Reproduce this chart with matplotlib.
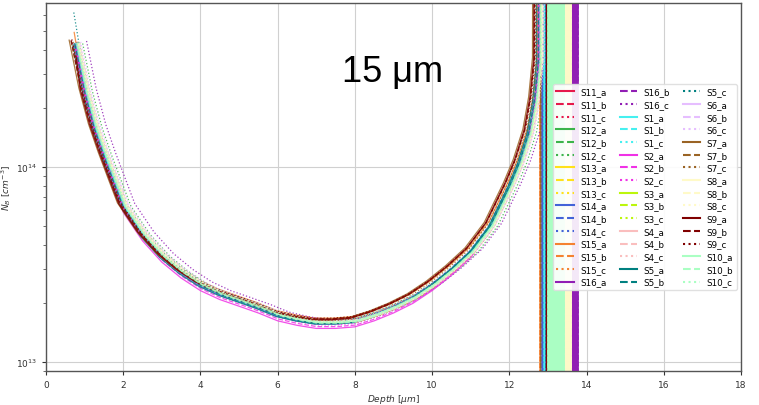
import numpy as np
import matplotlib
matplotlib.use("Agg")
import matplotlib.pyplot as plt

# ---- data ----
groups = ["S11", "S12", "S13", "S14", "S15", "S16", "S1", "S2", "S3", "S4",
          "S5", "S6", "S7", "S8", "S9", "S10"]
variants = ["a", "b", "c"]
group_colors = ["#e6194b", "#3cb44b", "#ffe119", "#4363d8", "#f58231", "#911eb4",
                "#46f0f0", "#f032e6", "#bcf60c", "#fabebe", "#008080", "#e6beff",
                "#9a6324", "#fffac8", "#800000", "#aaffc3"]
variant_styles = ["-", "--", ":"]

# typical profile (depth in um, N_B in cm^-3)
depth_base = [0.75, 1.0, 1.25, 1.5, 1.75, 2.0, 2.5, 3.0, 3.5, 4.0, 4.5, 5.0,
              5.5, 6.0, 6.5, 7.0, 7.5, 8.0, 8.5, 9.0, 9.5, 10.0, 10.5, 11.0,
              11.5, 12.0, 12.25, 12.5, 12.65, 12.75]
nb_base = [4.3e14, 2.45e14, 1.6e14, 1.15e14, 8.5e13, 6.3e13, 4.5e13, 3.5e13,
           2.9e13, 2.5e13, 2.25e13, 2.08e13, 1.92e13, 1.75e13, 1.66e13, 1.6e13,
           1.6e13, 1.63e13, 1.75e13, 1.92e13, 2.15e13, 2.5e13, 3.0e13, 3.7e13,
           5.0e13, 8.0e13, 1.05e14, 1.5e14, 2.2e14, 3.5e14]

# per-series level factor and depth offset (a, b, c for each group)
series_scale = [1.00, 0.98, 1.02,   1.00, 0.99, 1.00,   1.01, 1.00, 0.99,
                0.98, 1.00, 1.01,   1.05, 0.99, 1.02,   1.00, 1.01, 1.03,
                1.00, 0.98, 1.01,   0.93, 0.95, 0.97,   1.00, 0.99, 1.01,
                0.99, 1.00, 1.00,   0.98, 0.99, 1.03,   1.00, 1.01, 1.02,
                1.04, 1.03, 1.02,   1.00, 1.01, 1.00,   1.03, 1.04, 1.05,
                1.00, 0.99, 1.01]
series_shift = [0.00, 0.02, 0.05,   0.00, 0.05, 0.20,   0.05, 0.08, 0.10,
                0.00, -0.03, 0.05,  -0.03, 0.05, 0.08,  0.03, 0.05, 0.30,
                0.02, 0.04, 0.06,   0.00, 0.02, 0.03,   0.08, 0.10, 0.12,
                0.08, 0.10, 0.12,   -0.05, 0.00, 0.05,  0.10, 0.12, 0.15,
                -0.15, -0.10, -0.05, 0.08, 0.10, 0.12,  -0.12, -0.10, -0.08,
                0.05, 0.06, 0.08]
# first measured point of the few series that start higher (depth, N_B)
lead_series = ["S5_c", "S15_a", "S9_a"]
lead_depth = [0.72, 0.73, 0.78]
lead_nb = [6.2e14, 4.9e14, 3.7e14]

# depth range where each group's profile diverges (vertical band) and spacing
tail_start = [12.88, 12.92, 13.40, 12.84, 12.79, 13.60, 12.90, 12.94, 13.40,
              13.35, 12.95, 13.30, 12.81, 13.00, 12.97, 13.00]
tail_end = [12.88, 12.92, 13.60, 12.88, 12.79, 13.78, 12.92, 12.94, 13.60,
            13.60, 12.95, 13.60, 12.81, 13.60, 12.98, 13.43]
tail_step = [0.05, 0.05, 0.04, 0.02, 0.05, 0.012, 0.02, 0.05, 0.05,
             0.05, 0.05, 0.03, 0.05, 0.015, 0.01, 0.012]
TAIL_HI = 1e17
TAIL_LO = 1e11

# ---- figure ----
fig = plt.figure(figsize=(7.59, 4.06), dpi=100)
ax = fig.add_axes([0.0606, 0.0837, 0.9157, 0.9063])

k = 0
for gi, g in enumerate(groups):
    xs = np.arange(tail_start[gi], tail_end[gi] + 1e-9, tail_step[gi])
    tx, ty = [], []
    for i, xv in enumerate(xs):
        tx += [xv, xv]
        ty += [TAIL_HI, TAIL_LO] if i % 2 == 0 else [TAIL_LO, TAIL_HI]
    for vi, v in enumerate(variants):
        name = f"{g}_{v}"
        x = list(np.array(depth_base) + series_shift[k])
        y = list(np.array(nb_base) * series_scale[k])
        if name in lead_series:
            j = lead_series.index(name)
            x = [lead_depth[j]] + x[1:]
            y = [lead_nb[j]] + y[1:]
        ax.plot(x + [x[-1] + 0.02] + tx, y + [TAIL_HI] + ty,
                color=group_colors[gi], linestyle=variant_styles[vi],
                linewidth=0.9, alpha=0.85, label=name)
        k += 1

ax.set_yscale("log")
ax.set_xlim(0, 18)
ax.set_ylim(9.0e12, 6.93e14)
ax.set_xticks(range(0, 19, 2))
ax.grid(True, which="major", color="#d0d0d0", linewidth=0.8)
ax.tick_params(labelsize=6.5, colors="#333333", length=3)
ax.tick_params(which="minor", length=2, colors="#555555")
for s in ax.spines.values():
    s.set_color("#555555")
    s.set_linewidth(1.0)
ax.set_xlabel(r"$Depth\ [\mu m]$", fontsize=6.5, color="#333333", labelpad=2)
ax.set_ylabel(r"$N_B\ [cm^{-3}]$", fontsize=6.5, color="#333333", labelpad=2)

leg = ax.legend(loc="center right", ncol=3, fontsize=6.3, labelspacing=0.42,
                handlelength=2.0, handletextpad=0.7, columnspacing=1.5,
                borderpad=0.4, framealpha=0.9, edgecolor="#dddddd")
for line in leg.get_lines():
    line.set_linewidth(1.5)
    line.set_alpha(1.0)

fig.text(393 / 759, 1 - 82 / 406, "15 μm", fontsize=26, ha="center",
         va="baseline", family="Liberation Sans", color="black")

fig.savefig("out.png", dpi=100)
